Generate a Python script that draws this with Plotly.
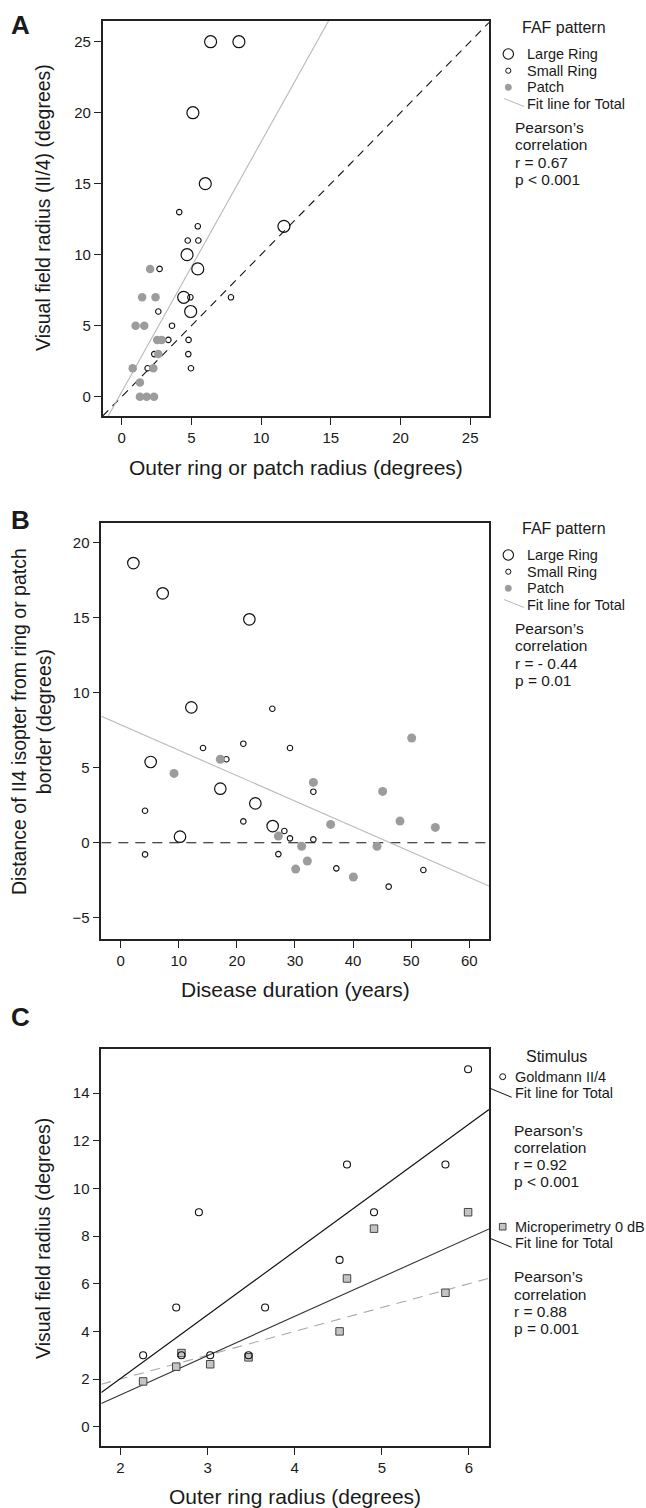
import plotly.graph_objects as go

W, H = 646, 1508
FONT = "Liberation Sans, Arial, Helvetica, sans-serif"
TXT = "#1a1a1a"

# ---------------- Panel A data ----------------
a_large_x = [6.38, 8.41, 5.11, 6.0, 11.64, 4.69, 5.46, 4.45, 4.95]
a_large_y = [25, 25, 20, 15, 12, 10, 9, 7, 6]
a_small_x = [4.13, 5.46, 4.74, 5.5, 2.72, 4.93, 7.84, 2.63, 3.61, 3.35, 4.8, 2.34, 4.78, 1.86, 4.97]
a_small_y = [13, 12, 11, 11, 9, 7, 7, 6, 5, 4, 4, 3, 3, 2, 2]
a_patch_x = [2.04, 1.47, 2.43, 1.0, 1.62, 2.55, 2.87, 2.63, 0.79, 2.27, 1.31, 1.31, 1.79, 2.32]
a_patch_y = [9, 7, 7, 5, 5, 4, 4, 3, 2, 2, 1, 0, 0, 0]
a_fit = {"slope": 1.761, "intercept": 0.33}
a_xticks = [0, 5, 10, 15, 20, 25]
a_yticks = [0, 5, 10, 15, 20, 25]

# ---------------- Panel B data ----------------
b_large_x = [2.18, 7.23, 22.15, 12.16, 5.16, 17.15, 23.18, 26.16, 10.21]
b_large_y = [18.64, 16.62, 14.89, 9.02, 5.38, 3.6, 2.62, 1.11, 0.4]
b_small_x = [26.1, 14.17, 21.11, 29.14, 18.19, 4.19, 21.11, 33.16, 28.17, 29.14, 33.16, 4.19, 27.14, 37.12, 52.1, 46.13]
b_small_y = [8.93, 6.31, 6.6, 6.31, 5.56, 2.13, 1.42, 3.4, 0.78, 0.29, 0.22, -0.78, -0.76, -1.71, -1.82, -2.93]
b_patch_x = [50.09, 17.15, 9.18, 33.16, 45.09, 36.14, 48.08, 54.16, 27.14, 31.15, 44.12, 32.13, 30.12, 40.05]
b_patch_y = [6.98, 5.56, 4.62, 4.02, 3.42, 1.22, 1.44, 1.02, 0.44, -0.24, -0.24, -1.22, -1.76, -2.29]
b_fit = {"slope": -0.1695, "intercept": 7.86}
b_xticks = [0, 10, 20, 30, 40, 50, 60]
b_yticks = [-5, 0, 5, 10, 15, 20]

# ---------------- Panel C data ----------------
c_gold_x = [5.99, 4.60, 5.73, 2.90, 4.91, 4.515, 2.64, 3.66, 2.26, 2.70, 3.03, 3.47]
c_gold_y = [15, 11, 11, 9, 9, 7, 5, 5, 3, 3, 3, 3]
c_micro_x = [4.91, 5.99, 4.60, 5.73, 4.515, 2.70, 3.47, 3.03, 2.64, 2.26]
c_micro_y = [8.31, 9.0, 6.22, 5.62, 4.0, 3.09, 2.91, 2.62, 2.52, 1.90]
c_gold_fit = {"slope": 2.67, "intercept": -3.32}
c_micro_fit = {"slope": 1.645, "intercept": -1.95}
c_xticks = [2, 3, 4, 5, 6]
c_yticks = [0, 2, 4, 6, 8, 10, 12, 14]

# axis ranges (layout)
a_xr, a_yr = [-1.36, 26.35], [-1.36, 26.48]
b_xr, b_yr = [-3.34, 63.4], [-6.42, 21.33]
c_xr, c_yr = [1.78, 6.23], [-0.81, 15.85]


def px(x):
    return x / W


def py(y):
    return 1 - y / H


def fitline(fit, xr):
    xs = [xr[0], xr[1]]
    return xs, [fit["intercept"] + fit["slope"] * v for v in xs]


fig = go.Figure()

# ---- Panel A ----
fig.add_trace(go.Scatter(x=a_xr, y=a_xr, mode="lines", xaxis="x", yaxis="y",
                         line=dict(color="#111", width=1.1, dash="8px,6px")))
fx, fy = fitline(a_fit, a_xr)
fig.add_trace(go.Scatter(x=fx, y=fy, mode="lines", xaxis="x", yaxis="y",
                         line=dict(color="#b8b8b8", width=1.1)))
fig.add_trace(go.Scatter(x=a_large_x, y=a_large_y, mode="markers", xaxis="x", yaxis="y",
                         marker=dict(symbol="circle-open", size=12, color="#111", line=dict(width=1.2))))
fig.add_trace(go.Scatter(x=a_small_x, y=a_small_y, mode="markers", xaxis="x", yaxis="y",
                         marker=dict(symbol="circle-open", size=5.5, color="#111", line=dict(width=1.1))))
fig.add_trace(go.Scatter(x=a_patch_x, y=a_patch_y, mode="markers", xaxis="x", yaxis="y",
                         marker=dict(symbol="circle", size=8.5, color="#9c9c9c", line=dict(width=0))))

# ---- Panel B ----
fig.add_trace(go.Scatter(x=b_xr, y=[0, 0], mode="lines", xaxis="x2", yaxis="y2",
                         line=dict(color="#111", width=1.1, dash="10px,7px")))
fx, fy = fitline(b_fit, b_xr)
fig.add_trace(go.Scatter(x=fx, y=fy, mode="lines", xaxis="x2", yaxis="y2",
                         line=dict(color="#b8b8b8", width=1.1)))
fig.add_trace(go.Scatter(x=b_large_x, y=b_large_y, mode="markers", xaxis="x2", yaxis="y2",
                         marker=dict(symbol="circle-open", size=11.5, color="#111", line=dict(width=1.2))))
fig.add_trace(go.Scatter(x=b_small_x, y=b_small_y, mode="markers", xaxis="x2", yaxis="y2",
                         marker=dict(symbol="circle-open", size=5.5, color="#111", line=dict(width=1.1))))
fig.add_trace(go.Scatter(x=b_patch_x, y=b_patch_y, mode="markers", xaxis="x2", yaxis="y2",
                         marker=dict(symbol="circle", size=9, color="#9c9c9c", line=dict(width=0))))

# ---- Panel C ----
fig.add_trace(go.Scatter(x=c_xr, y=c_xr, mode="lines", xaxis="x3", yaxis="y3",
                         line=dict(color="#a8a8a8", width=1.1, dash="10px,7px")))
fx, fy = fitline(c_gold_fit, c_xr)
fig.add_trace(go.Scatter(x=fx, y=fy, mode="lines", xaxis="x3", yaxis="y3",
                         line=dict(color="#111", width=1.2)))
fx, fy = fitline(c_micro_fit, c_xr)
fig.add_trace(go.Scatter(x=fx, y=fy, mode="lines", xaxis="x3", yaxis="y3",
                         line=dict(color="#333", width=1.1)))
fig.add_trace(go.Scatter(x=c_micro_x, y=c_micro_y, mode="markers", xaxis="x3", yaxis="y3",
                         marker=dict(symbol="square", size=7.5, color="#c4c4c4", line=dict(width=1, color="#444"))))
fig.add_trace(go.Scatter(x=c_gold_x, y=c_gold_y, mode="markers", xaxis="x3", yaxis="y3",
                         marker=dict(symbol="circle-open", size=7, color="#111", line=dict(width=1.1))))

axis_common = dict(showline=True, mirror=True, linecolor="#222", linewidth=1.5,
                   ticks="outside", ticklen=7, tickwidth=1, tickcolor="#222",
                   showgrid=False, zeroline=False,
                   tickfont=dict(family=FONT, size=15, color=TXT))

fig.update_layout(
    width=W, height=H, margin=dict(l=0, r=0, t=0, b=0),
    paper_bgcolor="white", plot_bgcolor="white", showlegend=False,
    xaxis=dict(domain=[102.7 / W, 489 / W], range=a_xr, tickvals=a_xticks, anchor="y", **axis_common),
    yaxis=dict(domain=[py(416), py(20.7)], range=a_yr, tickvals=a_yticks, anchor="x", **axis_common),
    xaxis2=dict(domain=[101.3 / W, 489 / W], range=b_xr, tickvals=b_xticks, anchor="y2", **axis_common),
    yaxis2=dict(domain=[py(939), py(522.7)], range=b_yr, tickvals=b_yticks, anchor="x2", **axis_common),
    xaxis3=dict(domain=[101.3 / W, 489 / W], range=c_xr, tickvals=c_xticks, anchor="y3", **axis_common),
    yaxis3=dict(domain=[py(1446), py(1049)], range=c_yr, tickvals=c_yticks, anchor="x3", **axis_common),
)

ann = []
shapes = []


def text(x, y, s, size, anchor="left", angle=0, bold=False):
    ann.append(dict(x=px(x), y=py(y), xref="paper", yref="paper", text=("<b>%s</b>" % s) if bold else s,
                    showarrow=False, xanchor=anchor, yanchor="middle", textangle=angle,
                    font=dict(family=FONT, size=size, color=TXT)))


def circ(cx, cy, r, fill, line_color, lw):
    shapes.append(dict(type="circle", xref="paper", yref="paper", xsizemode="pixel", ysizemode="pixel",
                       xanchor=px(cx), yanchor=py(cy), x0=-r, x1=r, y0=-r, y1=r,
                       fillcolor=fill, line=dict(color=line_color, width=lw)))


def sq(cx, cy, r, fill, line_color, lw):
    shapes.append(dict(type="rect", xref="paper", yref="paper", xsizemode="pixel", ysizemode="pixel",
                       xanchor=px(cx), yanchor=py(cy), x0=-r, x1=r, y0=-r, y1=r,
                       fillcolor=fill, line=dict(color=line_color, width=lw)))


def seg(x0, y0, x1, y1, color, lw=1):
    shapes.append(dict(type="line", xref="paper", yref="paper", x0=px(x0), y0=py(y0), x1=px(x1), y1=py(y1),
                       line=dict(color=color, width=lw)))


# Panel letters
text(20, 25, "A", 26, anchor="center", bold=True)
text(20, 520, "B", 26, anchor="center", bold=True)
text(20, 1017, "C", 26, anchor="center", bold=True)

# Axis titles
text(295.5, 467, "Outer ring or patch radius (degrees)", 21, anchor="center")
text(43, 208, "Visual field radius (II/4) (degrees)", 19.5, anchor="center", angle=-90)
text(295, 990, "Disease duration (years)", 21, anchor="center")
text(31, 722, "Distance of II4 isopter from ring or patch<br>border (degrees)", 19.5, anchor="center", angle=-90)
text(295, 1496, "Outer ring radius (degrees)", 21, anchor="center")
text(43, 1239, "Visual field radius (degrees)", 19.5, anchor="center", angle=-90)

# Legends A and B
for dy, pear in [(0, ["Pearson\u2019s", "correlation", "r = 0.67", "p < 0.001"]),
                 (501, ["Pearson\u2019s", "correlation", "r = - 0.44", "p = 0.01"])]:
    text(519.5, 27.5 + dy, "FAF pattern", 16)
    circ(508.3, 54 + dy, 5.2, "rgba(0,0,0,0)", "#111", 1.1)
    text(525, 54 + dy, "Large Ring", 14.5)
    circ(508.3, 70.7 + dy, 2.6, "rgba(0,0,0,0)", "#111", 1)
    text(525, 70.7 + dy, "Small Ring", 14.5)
    circ(508.3, 87.3 + dy, 3.2, "#9c9c9c", "#9c9c9c", 0.5)
    text(525, 87.3 + dy, "Patch", 14.5)
    seg(504, 98.5 + dy, 524, 106.5 + dy, "#b8b8b8", 1)
    text(525, 104 + dy, "Fit line for Total", 14.5)
    for i, s in enumerate(pear):
        text(513, 127 + dy + i * 17.5, s, 15.5)

# Legend C
text(524, 1056.7, "Stimulus", 16)
circ(502.7, 1076.7, 3, "rgba(0,0,0,0)", "#111", 1)
text(513, 1076.7, "Goldmann II/4", 14.5)
seg(490, 1088.3, 511.7, 1097.3, "#111", 1)
text(513, 1093.3, "Fit line for Total", 14.5)
for i, s in enumerate(["Pearson\u2019s", "correlation", "r = 0.92", "p < 0.001"]):
    text(512.3, 1130 + i * 17.3, s, 15.5)
sq(502.7, 1226.7, 3.3, "#c4c4c4", "#444", 1)
text(513, 1226.7, "Microperimetry 0 dB", 14.5)
seg(490, 1238.3, 511.7, 1247.3, "#111", 1)
text(513, 1242.7, "Fit line for Total", 14.5)
for i, s in enumerate(["Pearson\u2019s", "correlation", "r = 0.88", "p = 0.001"]):
    text(512.3, 1276.7 + i * 17.3, s, 15.5)

fig.update_layout(annotations=ann, shapes=shapes)
fig.write_html("out.html")
